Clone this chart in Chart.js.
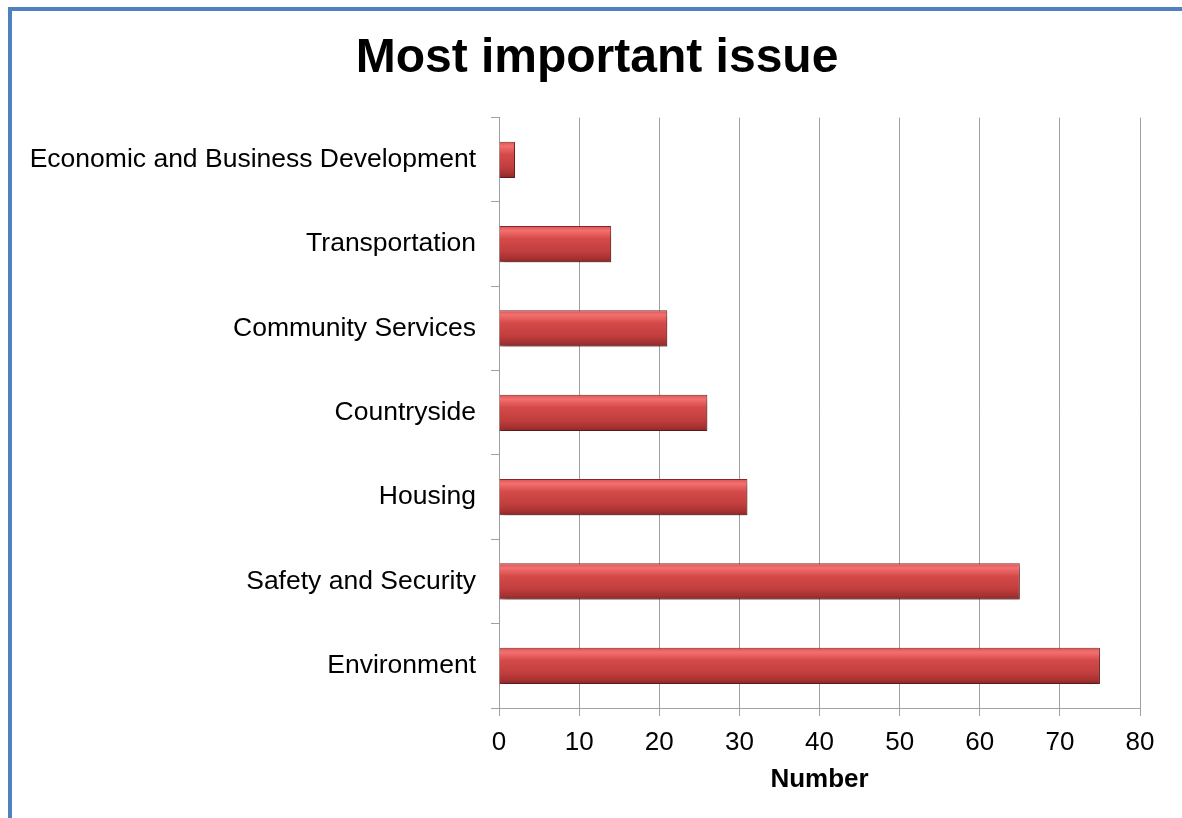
<!DOCTYPE html>
<html>
<head>
<meta charset="utf-8">
<script src="https://cdn.jsdelivr.net/npm/chart.js@4"></script>
<style>
	body { margin: 0; background: #fff; }
	#frame { position: absolute; left: 8px; top: 7px; width: 1300px; height: 900px;
		border-left: 4px solid #4F81BD; border-top: 4px solid #4F81BD; }
	#wrap { position: absolute; left: 0; top: 0; width: 1182px; height: 818px; }
</style>
</head>
<body>
<div id="frame"></div>
<div id="wrap"><canvas id="bar"></canvas></div>
<script>
//chart data, top category first
const issues = ['Economic and Business Development', 'Transportation', 'Community Services',
	'Countryside', 'Housing', 'Safety and Security', 'Environment'];
const counts = [2, 14, 21, 26, 31, 65, 75];
const xTicks = [0, 10, 20, 30, 40, 50, 60, 70, 80];

const FONT = 'Liberation Sans, Arial, sans-serif';

//builds a vertical gradient for each bar so it looks like the rounded 3d bars
function barColor(context) {
	const chart = context.chart;
	const yScale = chart.scales.y;
	if (context.type !== 'data' || !yScale || !chart.chartArea) {
		return '#C94444';
	}
	const yc = yScale.getPixelForValue(context.dataIndex);
	const h = 18;
	const g = chart.ctx.createLinearGradient(0, yc - h, 0, yc + h);
	g.addColorStop(0, '#D65454');
	g.addColorStop(0.12, '#F47070');
	g.addColorStop(0.35, '#D44A49');
	g.addColorStop(0.7, '#C23E3E');
	g.addColorStop(0.9, '#A53131');
	g.addColorStop(1, '#8A2727');
	return g;
}

//soft shadow under the bars
const shadowPlugin = {
	id: 'barShadow',
	beforeDatasetsDraw(chart) {
		const ctx = chart.ctx;
		ctx.save();
		ctx.shadowColor = 'rgba(0,0,0,0.4)';
		ctx.shadowBlur = 6;
		ctx.shadowOffsetX = 2;
		ctx.shadowOffsetY = 4;
	},
	afterDatasetsDraw(chart) {
		chart.ctx.restore();
	}
};

//the title sits a little right of the canvas centre, inside the blue frame
const titleShift = {
	id: 'titleShift',
	afterLayout(chart) {
		if (chart.titleBlock) {
			chart.titleBlock.left = 54;
		}
	}
};

function generateChart() {
	const ctx = document.getElementById('bar').getContext('2d');

	new Chart(ctx, {
		type: 'bar',
		data: {
			labels: issues,
			datasets: [{
				data: counts,
				backgroundColor: barColor,
				borderColor: '#8A2727',
				borderWidth: 1,
				categoryPercentage: 1,
				barPercentage: 0.43
			}]
		},
		options: {
			indexAxis: 'y',
			responsive: true,
			maintainAspectRatio: false,
			animation: false,
			layout: { padding: { left: 0, right: 42, top: 0, bottom: 0 } },
			plugins: {
				legend: { display: false },
				tooltip: { enabled: false },
				title: {
					display: true,
					text: 'Most important issue',
					color: '#000',
					font: { family: FONT, size: 48, weight: 'bold' },
					padding: { top: 30, bottom: 30 }
				}
			},
			scales: {
				x: {
					min: 0,
					max: 80,
					afterBuildTicks: scale => {
						scale.ticks = xTicks.map(v => ({ value: v }));
					},
					afterFit: scale => { scale.height = 110; },
					grid: { color: '#A0A0A0', lineWidth: 1, tickLength: 8, drawTicks: true },
					border: { color: '#A0A0A0' },
					ticks: { color: '#000', padding: 11, font: { family: FONT, size: 26 } },
					title: {
						display: true,
						text: 'Number',
						color: '#000',
						font: { family: FONT, size: 26, weight: 'bold' },
						padding: { top: 0, bottom: 23 }
					}
				},
				y: {
					afterFit: scale => { scale.width = 499; },
					grid: { drawOnChartArea: false, drawTicks: true, tickLength: 8, color: '#A0A0A0', offset: true },
					border: { color: '#A0A0A0' },
					ticks: { color: '#000', padding: 15, font: { family: FONT, size: 26.5 } }
				}
			}
		},
		plugins: [shadowPlugin, titleShift]
	});
}

generateChart();
</script>
</body>
</html>
